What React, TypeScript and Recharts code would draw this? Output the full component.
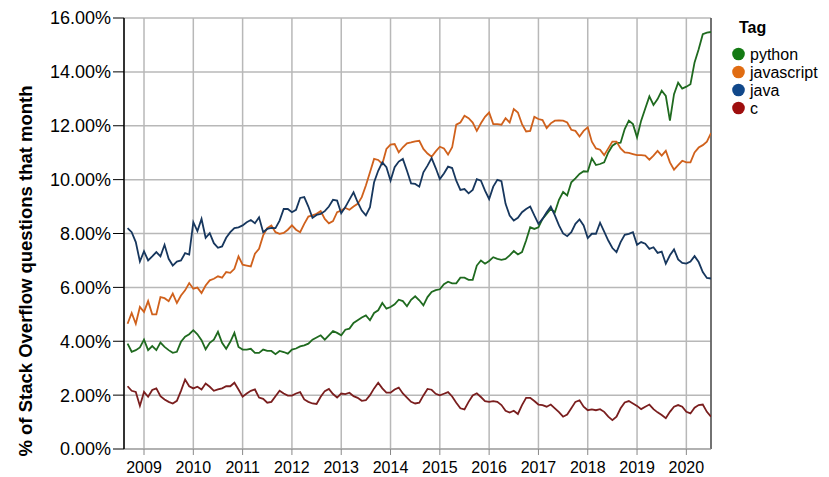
import {
  CartesianGrid,
  Line,
  LineChart,
  ReferenceLine,
  XAxis,
  YAxis,
} from "recharts";

const FONT = '"Liberation Sans", Arial, Helvetica, sans-serif';

// monthly share of questions (%), Sep 2008 .. Jul 2020
const python = [
  3.91, 3.61, 3.67, 3.77, 4.06, 3.67, 3.82, 3.67, 3.95, 3.79, 3.67, 3.57,
  3.61, 3.98, 4.17, 4.26, 4.41, 4.26, 4.04, 3.7, 3.94, 4.06, 4.35, 3.94,
  3.72, 3.98, 4.31, 3.79, 3.69, 3.69, 3.72, 3.57, 3.57, 3.69, 3.64, 3.64,
  3.52, 3.64, 3.6, 3.54, 3.69, 3.73, 3.81, 3.85, 3.91, 4.06, 4.14, 4.22,
  4.06, 4.22, 4.38, 4.31, 4.22, 4.43, 4.47, 4.68, 4.78, 4.88, 4.96, 4.78,
  5.05, 5.15, 5.42, 5.21, 5.27, 5.37, 5.54, 5.49, 5.3, 5.54, 5.67, 5.52,
  5.33, 5.64, 5.83, 5.9, 5.93, 6.12, 6.21, 6.15, 6.15, 6.36, 6.36, 6.28,
  6.28, 6.81, 7.0, 6.88, 6.98, 7.12, 7.06, 7.02, 7.06, 7.19, 7.35, 7.22,
  7.31, 7.74, 8.23, 8.17, 8.23, 8.54, 8.73, 8.91, 8.79, 9.25, 9.54, 9.41,
  9.9, 10.05, 10.21, 10.31, 10.3, 10.79, 10.54, 10.58, 10.64, 11.01, 11.26, 11.36,
  11.37, 11.88, 12.19, 12.06, 11.57, 12.19, 12.64, 13.09, 12.77, 12.99, 13.3, 13.11,
  12.19, 13.17, 13.6, 13.38, 13.45, 13.54, 14.35, 14.84, 15.4, 15.46, 15.48,
];

const javascript = [
  4.65, 5.05, 4.65, 5.27, 5.09, 5.49, 5.0, 5.0, 5.64, 5.6, 5.49, 5.77,
  5.42, 5.7, 5.89, 6.16, 5.95, 5.99, 5.79, 6.07, 6.26, 6.32, 6.41, 6.36,
  6.57, 6.54, 6.69, 7.15, 6.84, 6.81, 6.78, 7.25, 7.43, 7.93, 8.2, 8.3,
  8.05, 7.99, 8.02, 8.14, 8.3, 8.14, 8.05, 8.36, 8.63, 8.67, 8.73, 8.83,
  8.54, 8.38, 8.46, 8.79, 8.85, 8.95, 8.88, 9.0, 9.1, 9.35, 9.78, 10.27,
  10.77, 10.73, 10.58, 11.14, 11.3, 11.32, 11.01, 11.2, 11.35, 11.38, 11.42, 11.44,
  11.14, 10.97, 10.85, 11.05, 11.22, 11.16, 10.93, 11.2, 12.04, 12.12, 12.37, 12.28,
  12.12, 11.81, 12.09, 12.33, 12.49, 12.06, 12.06, 12.04, 12.28, 12.12, 12.62, 12.49,
  12.06, 11.79, 11.81, 12.33, 12.25, 12.21, 11.91, 12.09, 12.19, 12.2, 12.19, 12.12,
  11.85, 11.81, 11.6, 11.81, 11.94, 11.41, 11.16, 11.11, 10.91, 11.16, 11.41, 11.41,
  11.16, 11.01, 10.99, 10.95, 10.91, 10.91, 10.89, 10.74, 10.89, 11.07, 10.89, 11.07,
  10.64, 10.37, 10.54, 10.7, 10.64, 10.64, 11.01, 11.19, 11.28, 11.41, 11.73,
];

const java = [
  8.2, 8.05, 7.68, 6.96, 7.34, 7.0, 7.15, 7.31, 7.15, 7.58, 7.06, 6.81,
  6.96, 7.0, 7.27, 7.22, 8.42, 8.09, 8.54, 7.84, 8.01, 7.64, 7.47, 7.52,
  7.84, 8.05, 8.2, 8.23, 8.3, 8.42, 8.5, 8.38, 8.6, 8.05, 8.17, 8.21,
  8.2, 8.48, 8.91, 8.91, 8.79, 8.88, 9.32, 9.35, 9.0, 8.58, 8.69, 8.73,
  8.83, 9.0, 9.25, 9.22, 8.75, 8.98, 9.26, 9.53, 9.16, 8.85, 8.67, 8.98,
  9.9, 10.33, 10.64, 10.46, 9.96, 10.46, 10.67, 10.77, 10.33, 9.86, 9.84, 9.74,
  10.27, 10.52, 10.8, 10.43, 10.02, 10.23, 10.48, 10.43, 9.96, 9.62, 9.65, 9.49,
  9.62, 10.02, 9.96, 9.59, 9.28, 9.74, 9.99, 9.94, 9.1, 8.67, 8.48, 8.58,
  8.79, 8.91, 9.0, 8.67, 8.36, 8.54, 8.79, 9.0, 8.67, 8.3, 8.0, 7.9,
  8.05, 8.36, 8.52, 8.3, 7.83, 7.99, 7.99, 8.4, 8.07, 7.74, 7.46, 7.31,
  7.68, 7.95, 7.99, 8.05, 7.58, 7.68, 7.62, 7.43, 7.49, 7.28, 7.33, 6.88,
  7.19, 7.41, 7.04, 6.91, 6.88, 6.96, 7.16, 6.94, 6.57, 6.35, 6.33,
];

const c = [
  2.33, 2.16, 2.12, 1.6, 2.12, 1.94, 2.19, 2.25, 1.96, 1.84, 1.75, 1.69,
  1.79, 2.16, 2.58, 2.33, 2.25, 2.31, 2.21, 2.43, 2.31, 2.16, 2.21, 2.25,
  2.33, 2.33, 2.46, 2.21, 1.94, 2.06, 2.16, 2.21, 1.91, 1.86, 1.72, 1.75,
  1.96, 2.16, 2.06, 1.98, 1.98, 2.06, 2.11, 1.84, 1.75, 1.69, 1.67, 1.94,
  2.15, 2.23, 2.04, 1.91, 2.06, 2.04, 2.09, 1.96, 1.9, 1.79, 1.81, 2.0,
  2.25, 2.46, 2.25, 2.09, 2.09, 2.21, 2.28, 2.06, 1.91, 1.75, 1.69, 1.72,
  1.99, 2.23, 2.2, 2.05, 1.99, 2.05, 2.11, 1.95, 1.72, 1.51, 1.47, 1.75,
  1.99, 2.07, 1.93, 1.78, 1.75, 1.78, 1.75, 1.63, 1.42, 1.35, 1.42, 1.3,
  1.63, 1.9, 1.9, 1.78, 1.65, 1.63, 1.57, 1.65, 1.51, 1.37, 1.2, 1.28,
  1.51, 1.75, 1.81, 1.57, 1.44, 1.47, 1.44, 1.48, 1.38, 1.2, 1.07, 1.2,
  1.51, 1.73, 1.78, 1.69, 1.6, 1.48, 1.57, 1.65, 1.48, 1.36, 1.26, 1.14,
  1.38, 1.57, 1.63, 1.57, 1.38, 1.32, 1.53, 1.63, 1.65, 1.38, 1.2,
];

const tags = ["python", "javascript", "java", "c"];
const years = [2009, 2010, 2011, 2012, 2013, 2014, 2015, 2016, 2017, 2018, 2019, 2020];
const yTicks = [0, 2, 4, 6, 8, 10, 12, 14, 16];

const lineColors: Record<string, string> = {
  python: "#1f6a1f",
  javascript: "#d0611c",
  java: "#17375e",
  c: "#7a1e1e",
};
const dotColors: Record<string, string> = {
  python: "#147a14",
  javascript: "#e06c12",
  java: "#11488a",
  c: "#9e0e0e",
};

// month number counted from Jan 2008 (0)
const FIRST_MONTH = 8;
const months = python.map((_, i) => {
  const m = FIRST_MONTH + i;
  return `${2008 + Math.floor(m / 12)}-${String((m % 12) + 1).padStart(2, "0")}`;
});
const monthIndex = (label: string) => {
  const [y, m] = label.split("-").map(Number);
  return (y - 2008) * 12 + m - 1;
};

const series: Record<string, number[]> = { python, javascript, java, c };
const data = months.map((month, i) => {
  const row: Record<string, number | string> = { month, x: monthIndex(month) };
  tags.forEach((t) => (row[t] = series[t][i]));
  return row;
});

export default function App() {
  return (
    <div
      style={{
        position: "absolute",
        left: 0,
        top: 0,
        width: 829,
        height: 477,
        background: "#fff",
        fontFamily: FONT,
      }}
    >
      <LineChart
        width={829}
        height={477}
        data={data}
        margin={{ top: 18, right: 118, bottom: 0, left: 0 }}
      >
        <CartesianGrid stroke="#b8b8b8" strokeWidth={1.5} />
        <XAxis
          dataKey="x"
          type="number"
          domain={[7.13, 150]}
          allowDataOverflow
          ticks={years.map((y) => (y - 2008) * 12)}
          tickFormatter={(v) => String(2008 + v / 12)}
          height={28}
          tickSize={6}
          tickMargin={7}
          axisLine={{ stroke: "#999" }}
          tickLine={{ stroke: "#888" }}
          tick={{ fill: "#000", fontSize: 16, fontFamily: FONT }}
        />
        <YAxis
          type="number"
          domain={[0, 16]}
          ticks={yTicks}
          tickFormatter={(v) => `${Number(v).toFixed(2)}%`}
          width={124}
          tickSize={11}
          tickMargin={2}
          axisLine={{ stroke: "#000", strokeWidth: 1.5 }}
          tickLine={{ stroke: "#000" }}
          tick={{ fill: "#000", fontSize: 18, fontFamily: FONT }}
        />
        <ReferenceLine x={150} stroke="#555" strokeWidth={1.5} />
        {tags.map((t) => (
          <Line
            key={t}
            dataKey={t}
            type="linear"
            stroke={lineColors[t]}
            strokeWidth={1.8}
            dot={false}
            isAnimationActive={false}
          />
        ))}
      </LineChart>
      <svg
        width={829}
        height={477}
        style={{ position: "absolute", left: 0, top: 0, pointerEvents: "none" }}
      >
        <text
          x={25}
          y={271}
          transform="rotate(-90 25 271)"
          textAnchor="middle"
          dominantBaseline="central"
          fontWeight="bold"
          fontSize={18.5}
          fontFamily={FONT}
        >
          % of Stack Overflow questions that month
        </text>
        <text x={739} y={33} fontWeight="bold" fontSize={16} fontFamily={FONT}>
          Tag
        </text>
        {tags.map((t, i) => (
          <g key={t}>
            <circle cx={738.5} cy={54 + i * 18} r={6.3} fill={dotColors[t]} />
            <text
              x={750}
              y={54 + i * 18}
              dominantBaseline="central"
              fontSize={16}
              fontFamily={FONT}
            >
              {t}
            </text>
          </g>
        ))}
      </svg>
    </div>
  );
}
